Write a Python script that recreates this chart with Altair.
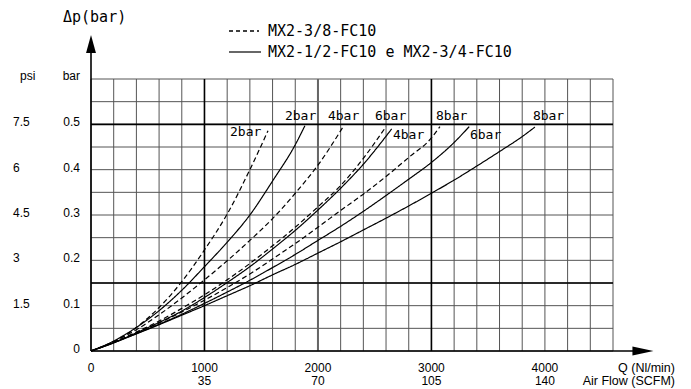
import altair as alt
import pandas as pd

# ---------------- data ----------------
# dashed curves: MX2-3/8-FC10 ; solid curves: MX2-1/2-FC10 e MX2-3/4-FC10
q_d2 = [0, 200, 400, 600, 800, 1000, 1200, 1400, 1560]
dp_d2 = [0, 0.020, 0.052, 0.096, 0.153, 0.223, 0.302, 0.400, 0.486]

q_d4 = [0, 200, 400, 600, 800, 1000, 1200, 1400, 1600, 1800, 2000, 2223]
dp_d4 = [0, 0.021, 0.047, 0.080, 0.117, 0.157, 0.199, 0.244, 0.292, 0.348, 0.410, 0.495]

q_d6 = [0, 200, 400, 600, 800, 1000, 1200, 1400, 1600, 1800, 2000, 2200, 2400, 2600]
dp_d6 = [0, 0.019, 0.042, 0.066, 0.094, 0.124, 0.157, 0.193, 0.232, 0.273, 0.318, 0.365, 0.425, 0.495]

q_d8 = [0, 200, 400, 600, 800, 1000, 1200, 1400, 1600, 1800, 2000, 2200, 2400, 2600, 2800, 3000, 3075]
dp_d8 = [0, 0.019, 0.040, 0.062, 0.086, 0.112, 0.140, 0.170, 0.203, 0.237, 0.273, 0.310, 0.346, 0.385, 0.427, 0.470, 0.495]

q_s2 = [0, 200, 400, 600, 800, 1000, 1200, 1400, 1600, 1800, 1885]
dp_s2 = [0, 0.022, 0.052, 0.089, 0.134, 0.186, 0.240, 0.300, 0.375, 0.455, 0.497]

q_s4 = [0, 200, 400, 600, 800, 1000, 1200, 1400, 1600, 1800, 2000, 2200, 2400, 2650]
dp_s4 = [0, 0.018, 0.040, 0.063, 0.088, 0.118, 0.151, 0.186, 0.225, 0.266, 0.311, 0.359, 0.412, 0.490]

q_s6 = [0, 200, 400, 600, 800, 1000, 1200, 1400, 1600, 1800, 2000, 2200, 2400, 2600, 2800, 3000, 3200, 3333]
dp_s6 = [0, 0.018, 0.038, 0.059, 0.081, 0.105, 0.130, 0.156, 0.184, 0.213, 0.244, 0.275, 0.308, 0.343, 0.379, 0.416, 0.460, 0.495]

q_s8 = [0, 200, 400, 600, 800, 1000, 1200, 1400, 1600, 1800, 2000, 2200, 2400, 2600, 2800, 3000, 3200, 3400, 3600, 3800, 3912]
dp_s8 = [0, 0.019, 0.038, 0.058, 0.079, 0.100, 0.122, 0.144, 0.168, 0.191, 0.216, 0.241, 0.267, 0.293, 0.320, 0.348, 0.377, 0.408, 0.440, 0.473, 0.494]

# curve labels (left edge of text, vertical centre)
lab_text = ["2bar", "2bar", "4bar", "6bar", "8bar", "8bar", "4bar", "6bar"]
lab_q = [1225, 1709, 2088, 2502, 3040, 3894, 2661, 3339]
lab_dp = [0.483, 0.518, 0.518, 0.518, 0.518, 0.518, 0.476, 0.476]

# axis tick labels
x_ticks = [0, 1000, 2000, 3000, 4000]
x_tick_lbl = ["0", "1000", "2000", "3000", "4000"]
scfm_ticks = [1000, 2000, 3000, 4000]
scfm_lbl = ["35", "70", "105", "140"]
bar_ticks = [0, 0.1, 0.2, 0.3, 0.4, 0.5]
bar_lbl = ["0", "0.1", "0.2", "0.3", "0.4", "0.5"]
psi_ticks = [0.1, 0.2, 0.3, 0.4, 0.5]
psi_lbl = ["1.5", "3", "4.5", "6", "7.5"]

grid_x = [i * 200 for i in range(24)]
grid_y = [round(i * 0.05, 2) for i in range(13)]
bold_x = [1000, 3000]
bold_y = [0.15, 0.5]

X_DOM = [0, 4600]
Y_DOM = [0, 0.6]

# ---------------- build tables ----------------
rows = []
for name, style, qs, dps in [
    ("d2", "dashed", q_d2, dp_d2), ("d4", "dashed", q_d4, dp_d4),
    ("d6", "dashed", q_d6, dp_d6), ("d8", "dashed", q_d8, dp_d8),
    ("s2", "solid", q_s2, dp_s2), ("s4", "solid", q_s4, dp_s4),
    ("s6", "solid", q_s6, dp_s6), ("s8", "solid", q_s8, dp_s8),
]:
    for q, dp in zip(qs, dps):
        rows.append({"series": name, "style": style, "q": q, "dp": dp})
curves = pd.DataFrame(rows)

xs = alt.Scale(domain=X_DOM, nice=False, zero=False)
ys = alt.Scale(domain=Y_DOM, nice=False, zero=False)

CAD = "DejaVu Sans Mono"
SANS = "Liberation Sans"

grid_v = alt.Chart(pd.DataFrame({"g": grid_x})).mark_rule(color="#555", strokeWidth=1).encode(
    x=alt.X("g:Q", scale=xs, axis=None))
grid_h = alt.Chart(pd.DataFrame({"g": grid_y})).mark_rule(color="#555", strokeWidth=1).encode(
    y=alt.Y("g:Q", scale=ys, axis=None))
bold_v = alt.Chart(pd.DataFrame({"g": bold_x})).mark_rule(color="black", strokeWidth=1.6).encode(
    x=alt.X("g:Q", scale=xs, axis=None))
gray_v = alt.Chart(pd.DataFrame({"g": [2000]})).mark_rule(color="#666", strokeWidth=2).encode(
    x=alt.X("g:Q", scale=xs, axis=None))
bold_h = alt.Chart(pd.DataFrame({"g": bold_y})).mark_rule(color="black", strokeWidth=1.6).encode(
    y=alt.Y("g:Q", scale=ys, axis=None))

# axis lines with arrows (extend beyond the grid)
y_axis_line = alt.Chart(pd.DataFrame({"x": [0], "y": [0], "y2": [0.66]})).mark_rule(
    color="black", strokeWidth=1.6).encode(
    x=alt.X("x:Q", scale=xs, axis=None), y=alt.Y("y:Q", scale=ys, axis=None), y2="y2:Q")
x_axis_line = alt.Chart(pd.DataFrame({"x": [0], "x2": [4800], "y": [0]})).mark_rule(
    color="black", strokeWidth=1.6).encode(
    x=alt.X("x:Q", scale=xs, axis=None), x2="x2:Q", y=alt.Y("y:Q", scale=ys, axis=None))
arrow_up = alt.Chart(pd.DataFrame({"x": [0], "y": [0.677]})).mark_point(
    shape="M0,-1L0.55,1L-0.55,1Z", filled=True, color="black", opacity=1, size=324).encode(
    x=alt.X("x:Q", scale=xs, axis=None), y=alt.Y("y:Q", scale=ys, axis=None))
arrow_right = alt.Chart(pd.DataFrame({"x": [4864], "y": [0]})).mark_point(
    shape="M1,0L-1,0.43L-1,-0.43Z", filled=True, color="black", opacity=1, size=441).encode(
    x=alt.X("x:Q", scale=xs, axis=None), y=alt.Y("y:Q", scale=ys, axis=None))

lines = alt.Chart(curves).mark_line(color="black", strokeWidth=1.2, interpolate="monotone").encode(
    x=alt.X("q:Q", scale=xs, axis=None),
    y=alt.Y("dp:Q", scale=ys, axis=None),
    detail="series:N",
    order="q:Q",
    strokeDash=alt.StrokeDash("style:N", scale=alt.Scale(domain=["dashed", "solid"], range=[[5, 3], [1, 0]]), legend=None),
)

curve_labels = alt.Chart(pd.DataFrame({"t": lab_text, "q": lab_q, "dp": lab_dp})).mark_text(
    font=CAD, fontSize=13, align="left", baseline="middle", color="black").encode(
    x=alt.X("q:Q", scale=xs, axis=None), y=alt.Y("dp:Q", scale=ys, axis=None), text="t:N")

# tick labels
xl1 = alt.Chart(pd.DataFrame({"q": x_ticks, "t": x_tick_lbl})).mark_text(
    font=SANS, fontSize=12, align="center", baseline="middle", color="black").encode(
    x=alt.X("q:Q", scale=xs, axis=None), y=alt.value(289), text="t:N")
xl2 = alt.Chart(pd.DataFrame({"q": scfm_ticks, "t": scfm_lbl})).mark_text(
    font=SANS, fontSize=12, align="center", baseline="middle", color="black").encode(
    x=alt.X("q:Q", scale=xs, axis=None), y=alt.value(302), text="t:N")
yl_bar = alt.Chart(pd.DataFrame({"v": bar_ticks, "t": bar_lbl})).mark_text(
    font=SANS, fontSize=12, align="right", baseline="middle", color="black", dy=-2).encode(
    y=alt.Y("v:Q", scale=ys, axis=None), x=alt.value(-11), text="t:N")
yl_psi = alt.Chart(pd.DataFrame({"v": psi_ticks, "t": psi_lbl})).mark_text(
    font=SANS, fontSize=12, align="left", baseline="middle", color="black", dy=-2).encode(
    y=alt.Y("v:Q", scale=ys, axis=None), x=alt.value(-78), text="t:N")

psi_hdr = alt.Chart(pd.DataFrame({"t": ["psi"]})).mark_text(
    font=SANS, fontSize=12, align="left", baseline="middle", color="black").encode(
    x=alt.value(-71), y=alt.value(-3), text="t:N")
bar_hdr = alt.Chart(pd.DataFrame({"t": ["bar"]})).mark_text(
    font=SANS, fontSize=12, align="right", baseline="middle", color="black").encode(
    x=alt.value(-11), y=alt.value(-3), text="t:N")

q_title = alt.Chart(pd.DataFrame({"t": ["Q (Nl/min)"]})).mark_text(
    font=SANS, fontSize=12.5, align="right", baseline="middle", color="black").encode(
    x=alt.value(584), y=alt.value(289), text="t:N")
flow_title = alt.Chart(pd.DataFrame({"t": ["Air Flow (SCFM)"]})).mark_text(
    font=SANS, fontSize=12.5, align="right", baseline="middle", color="black").encode(
    x=alt.value(584), y=alt.value(302), text="t:N")
dp_title = alt.Chart(pd.DataFrame({"t": ["Δp(bar)"]})).mark_text(
    font=CAD, fontSize=15, align="left", baseline="middle", color="black").encode(
    x=alt.value(-28), y=alt.value(-62), text="t:N")

# legend
leg_dash = alt.Chart(pd.DataFrame({"k": [1]})).mark_rule(
    color="black", strokeWidth=1.3, strokeDash=[4, 3]).encode(
    x=alt.value(138), x2=alt.value(168), y=alt.value(-48))
leg_solid = alt.Chart(pd.DataFrame({"k": [1]})).mark_rule(
    color="black", strokeWidth=1.2).encode(
    x=alt.value(138), x2=alt.value(170), y=alt.value(-27))
leg_t1 = alt.Chart(pd.DataFrame({"t": ["MX2-3/8-FC10"]})).mark_text(
    font=CAD, fontSize=15, align="left", baseline="middle", color="black").encode(
    x=alt.value(177), y=alt.value(-48), text="t:N")
leg_t2 = alt.Chart(pd.DataFrame({"t": ["MX2-1/2-FC10 e MX2-3/4-FC10"]})).mark_text(
    font=CAD, fontSize=15, align="left", baseline="middle", color="black").encode(
    x=alt.value(177), y=alt.value(-27), text="t:N")

chart = alt.layer(
    grid_v, grid_h, gray_v, bold_v, bold_h, y_axis_line, x_axis_line, arrow_up, arrow_right,
    lines, curve_labels, xl1, xl2, yl_bar, yl_psi, psi_hdr, bar_hdr, q_title, flow_title,
    dp_title, leg_dash, leg_solid, leg_t1, leg_t2,
).properties(
    width=522, height=272,
    autosize=alt.AutoSizeParams(type="none"),
    padding={"left": 91, "top": 79, "right": 78, "bottom": 38},
    background="white",
).configure_view(strokeWidth=0)

chart.save("out.html", embed_options={"renderer": "svg", "actions": False})
